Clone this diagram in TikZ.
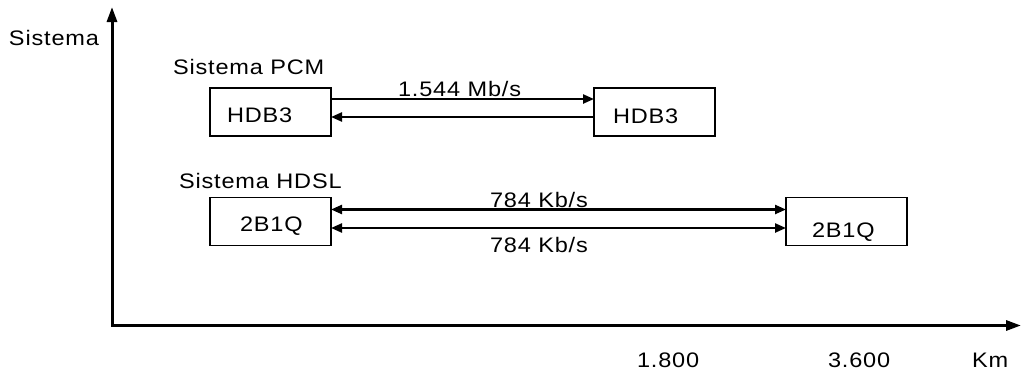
\documentclass[tikz,border=0pt]{standalone}
\usepackage{fontspec}
\setmainfont{Liberation Sans}[LetterSpace=4,FakeStretch=1.12]
\usetikzlibrary{arrows.meta}
\begin{document}
\begin{tikzpicture}[x=1pt,y=-1pt,
  box/.style={draw,line width=1.6pt,minimum width=121pt,minimum height=48pt,inner sep=0pt,outer sep=0pt},
  txt/.style={anchor=base west,inner sep=0pt,outer sep=0pt,font=\fontsize{21}{25}\selectfont},
  axis/.style={line width=3pt,{Triangle[length=15pt,width=10pt]}-{Triangle[length=15pt,width=10pt]}},
  link/.style={line width=2.3pt}]
\useasboundingbox (0,0) rectangle (1022,372);
% axes
\coordinate (ytop) at (112,7);
\coordinate (orig) at (112,325.5);
\coordinate (xend) at (1021,325.5);
\draw[axis] (ytop) -- (orig) -- (xend);
\node[txt] (ylab) at (9,45) {Sistema};
\node[txt] (t1800) at (637,367) {1.800};
\node[txt] (t3600) at (828,367) {3.600};
\node[txt] (tkm) at (972,367) {Km};
% PCM
\node[txt] (pcm) at (173,74) {Sistema PCM};
\node[box] (b1) at (270.5,112) {};
\node[box] (b2) at (654.5,112) {};
\node[txt] (b1t) at (227,122) {HDB3};
\node[txt] (b2t) at (613,123) {HDB3};
\draw[link,-{Triangle[length=11pt,width=9pt]}] ([yshift=13pt]b1.east) -- ([yshift=13pt]b2.west);
\draw[link,-{Triangle[length=11pt,width=9pt]}] ([yshift=-5pt]b2.west) -- ([yshift=-5pt]b1.east);
\node[txt] (r1) at (398,96) {1.544 Mb/s};
% HDSL
\node[txt] (hdsl) at (179,188) {Sistema HDSL};
\node[box] (b3) at (270.5,221.5) {};
\node[box] (b4) at (846.5,221.5) {};
\node[txt] (b3t) at (240,231) {2B1Q};
\node[txt] (b4t) at (812,237) {2B1Q};
\draw[link,{Triangle[length=11pt,width=9pt]}-{Triangle[length=11pt,width=9pt]}] ([yshift=12pt]b3.east) -- ([yshift=12pt]b4.west);
\draw[link,{Triangle[length=11pt,width=9pt]}-{Triangle[length=11pt,width=9pt]}] ([yshift=-6.5pt]b3.east) -- ([yshift=-6.5pt]b4.west);
\node[txt] (r2) at (490,207) {784 Kb/s};
\node[txt] (r3) at (490,252) {784 Kb/s};
\end{tikzpicture}
\end{document}
